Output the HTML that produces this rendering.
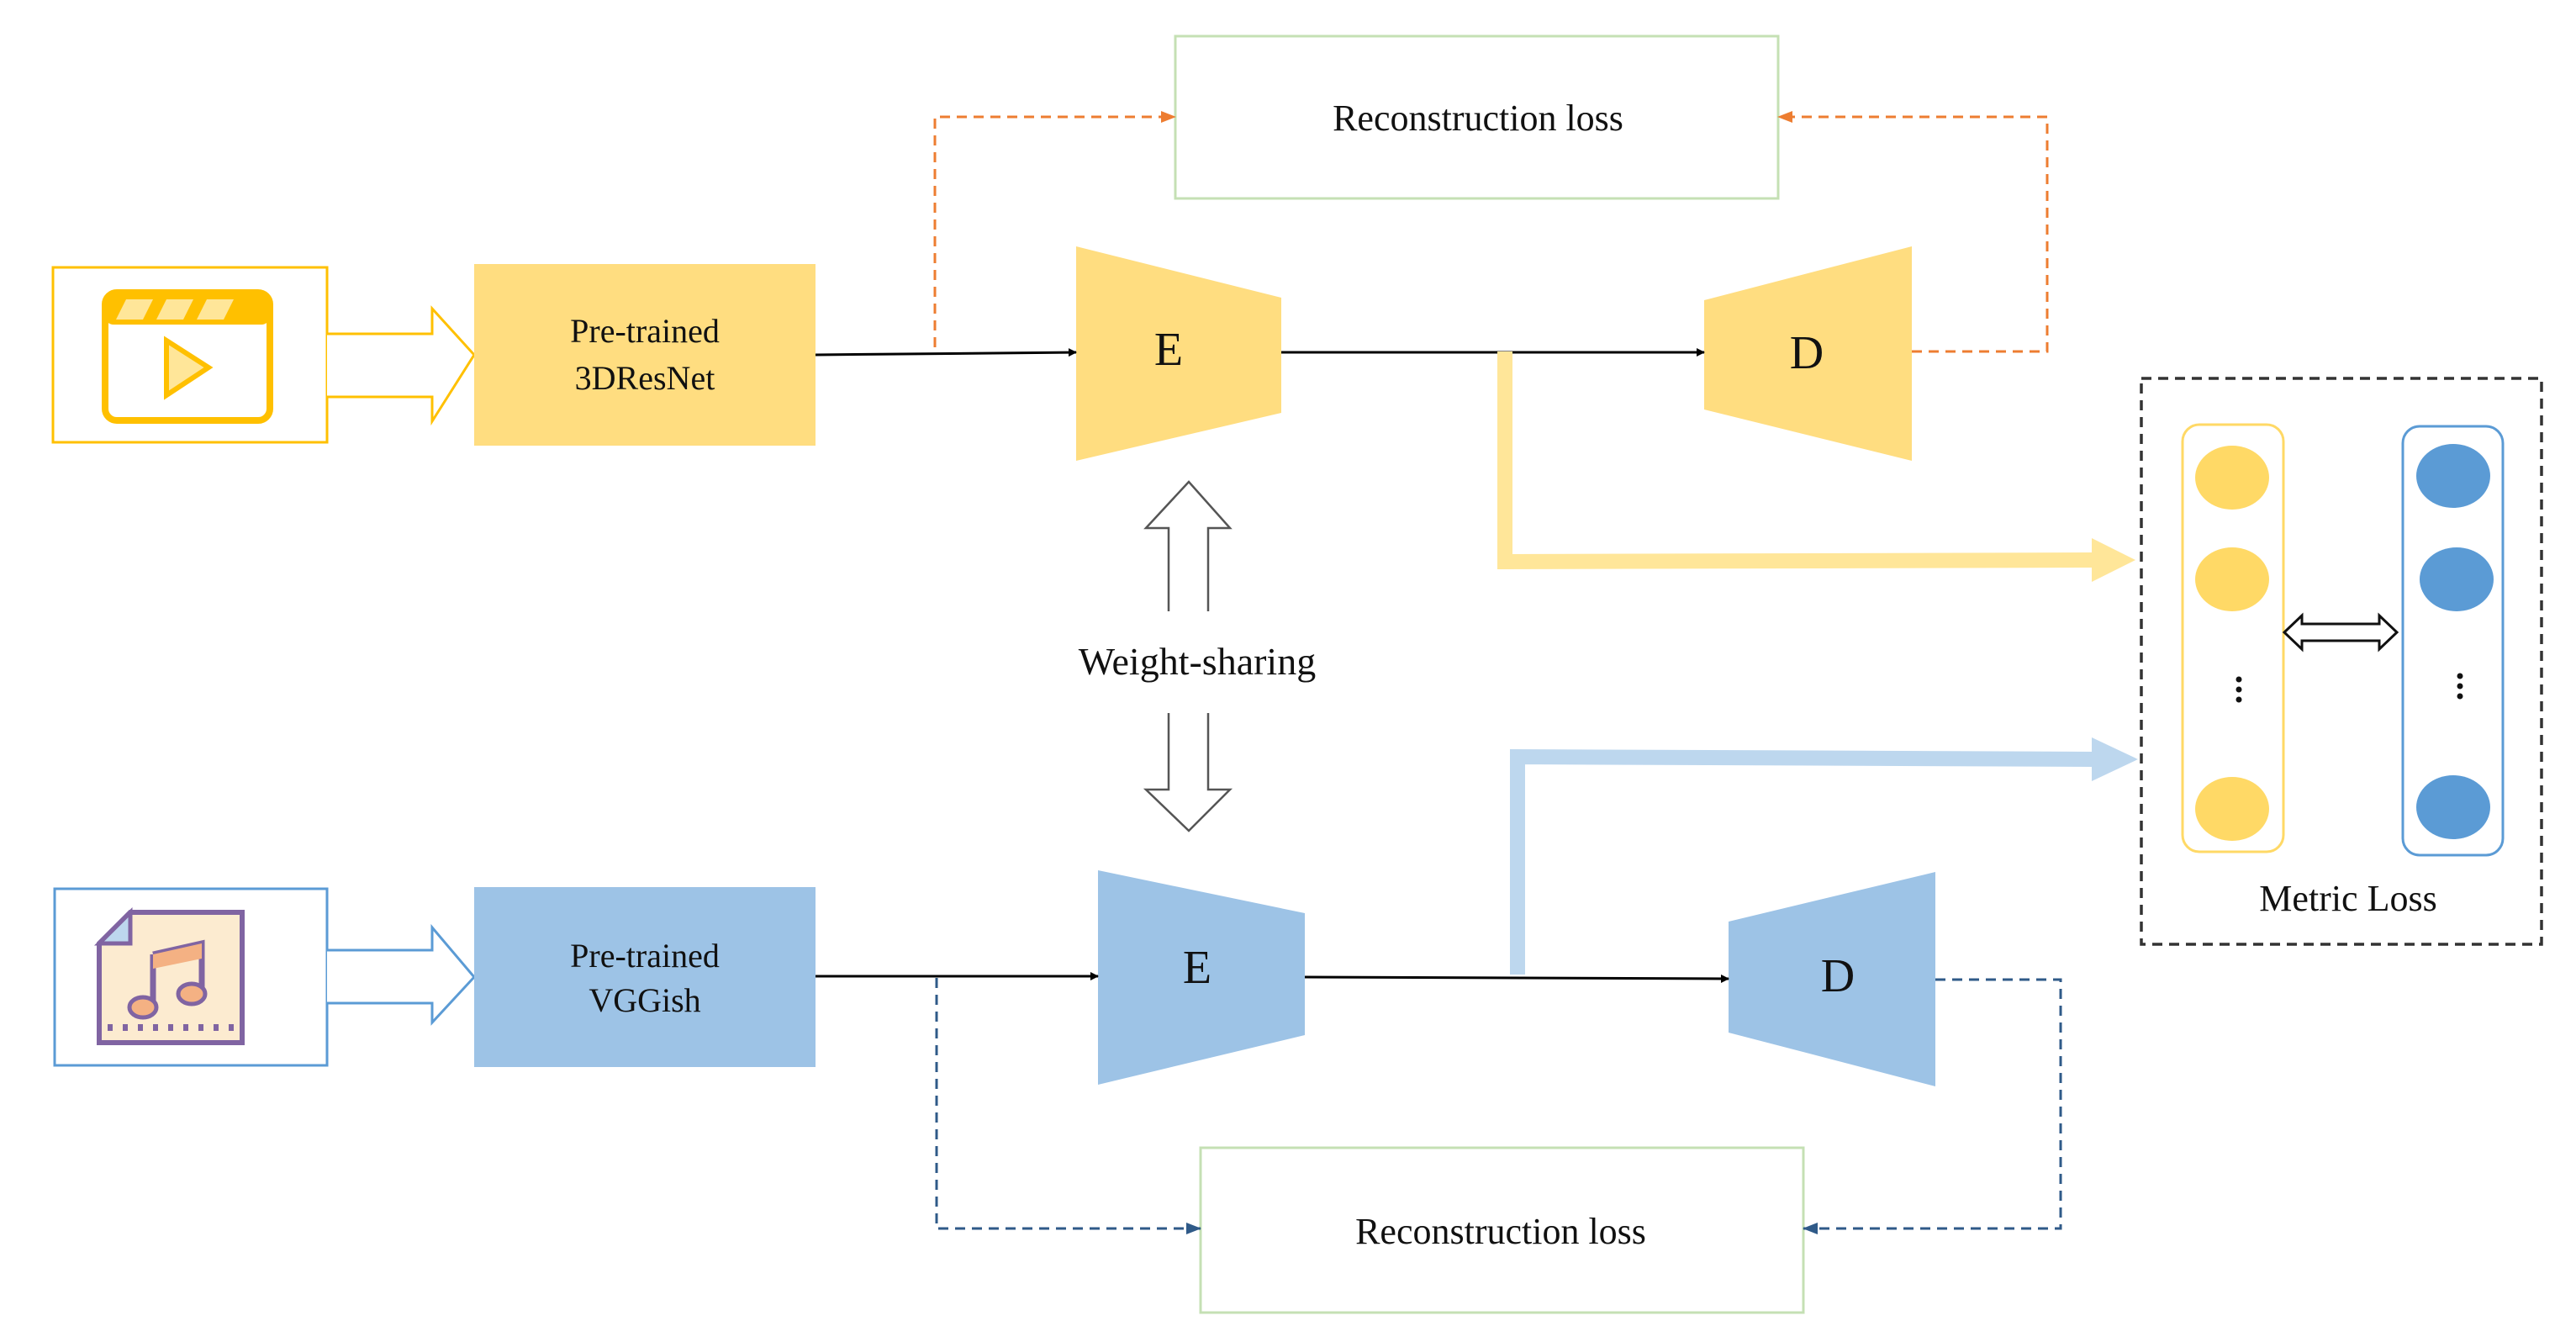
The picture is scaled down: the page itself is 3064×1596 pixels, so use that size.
<!DOCTYPE html>
<html><head><meta charset="utf-8"><style>
html,body{margin:0;padding:0;background:#fff;}
svg{display:block;}
text{font-family:"Liberation Serif",serif;fill:#111;}
</style></head><body>
<svg width="3064" height="1596" viewBox="0 0 3064 1596" xmlns="http://www.w3.org/2000/svg">
<defs>
<marker id="ab" markerWidth="10" markerHeight="10" refX="9" refY="5" orient="auto" markerUnits="userSpaceOnUse"><path d="M0,0 L10,5 L0,10 Z" fill="#000"/></marker>
<marker id="ao" markerWidth="18" markerHeight="14" refX="17" refY="7" orient="auto" markerUnits="userSpaceOnUse"><path d="M0,0 L18,7 L0,14 Z" fill="#ED7D31"/></marker>
<marker id="ad" markerWidth="18" markerHeight="14" refX="17" refY="7" orient="auto" markerUnits="userSpaceOnUse"><path d="M0,0 L18,7 L0,14 Z" fill="#2F5A88"/></marker>
</defs>

<rect x="1398" y="43" width="717" height="193" fill="#fff" stroke="#C5E0B4" stroke-width="3"/>
<text x="1758" y="155" font-size="44" text-anchor="middle">Reconstruction loss</text>
<rect x="1428" y="1365" width="717" height="196" fill="#fff" stroke="#C5E0B4" stroke-width="3"/>
<text x="1785" y="1479" font-size="44" text-anchor="middle">Reconstruction loss</text>

<rect x="63" y="318" width="326" height="208" fill="#fff" stroke="#FFC000" stroke-width="3"/>
<g>
<rect x="125" y="348" width="196" height="152" rx="14" fill="#fff" stroke="#FFC000" stroke-width="8"/>
<rect x="125" y="348" width="196" height="38" rx="10" fill="#FFC000"/>
<path d="M150 356 L138 380 L170 380 L182 356 Z M198 356 L186 380 L218 380 L230 356 Z M246 356 L234 380 L266 380 L278 356 Z" fill="#FFE699"/>
<path d="M198 405 L198 470 L248 437 Z" fill="#FFE699" stroke="#FFC000" stroke-width="6"/>
</g>
<path d="M389 397 L514 397 L514 367 L564 422 L514 501 L514 472 L389 472" fill="#fff" stroke="#FFC000" stroke-width="3"/>

<rect x="564" y="314" width="406" height="216" fill="#FFDD80"/>
<text x="767" y="407" font-size="40" text-anchor="middle">Pre-trained</text>
<text x="767" y="463" font-size="40" text-anchor="middle">3DResNet</text>

<rect x="65" y="1057" width="324" height="210" fill="#fff" stroke="#5B9BD5" stroke-width="3"/>
<g>
<path d="M155 1085 L288 1085 L288 1240 L118 1240 L118 1122 Z" fill="#FCEBD0" stroke="#8064A2" stroke-width="6"/>
<path d="M155 1085 L155 1122 L118 1122 Z" fill="#BDD7EE" stroke="#8064A2" stroke-width="5"/>
<path d="M182 1135 L240 1122 L240 1180 M182 1135 L182 1198" fill="none" stroke="#8064A2" stroke-width="7"/>
<path d="M182 1135 L240 1122 L240 1140 L182 1152 Z" fill="#F4B183"/>
<ellipse cx="170" cy="1198" rx="16" ry="12" fill="#F4B183" stroke="#8064A2" stroke-width="5"/>
<ellipse cx="228" cy="1182" rx="16" ry="12" fill="#F4B183" stroke="#8064A2" stroke-width="5"/>
<path d="M128 1222 L280 1222" stroke="#8064A2" stroke-width="8" stroke-dasharray="6 12"/>
</g>
<path d="M389 1130 L514 1130 L514 1103 L564 1162 L514 1216 L514 1193 L389 1193" fill="#fff" stroke="#5B9BD5" stroke-width="3"/>

<rect x="564" y="1055" width="406" height="214" fill="#9DC3E6"/>
<text x="767" y="1150" font-size="40" text-anchor="middle">Pre-trained</text>
<text x="767" y="1203" font-size="40" text-anchor="middle">VGGish</text>

<polygon points="1280,293 1524,354 1524,491 1280,548" fill="#FFDD80"/>
<text x="1390" y="434" font-size="56" text-anchor="middle">E</text>
<polygon points="2027,357 2274,293 2274,548 2027,487" fill="#FFDD80"/>
<text x="2149" y="438" font-size="56" text-anchor="middle">D</text>

<line x1="970" y1="422" x2="1280" y2="419" stroke="#000" stroke-width="3" marker-end="url(#ab)"/>
<line x1="1524" y1="419" x2="2027" y2="419" stroke="#000" stroke-width="3" marker-end="url(#ab)"/>

<polyline points="1112,413 1112,139 1398,139" fill="none" stroke="#ED7D31" stroke-width="3" stroke-dasharray="12 8" marker-end="url(#ao)"/>
<polyline points="2274,418 2435,418 2435,139 2115,139" fill="none" stroke="#ED7D31" stroke-width="3" stroke-dasharray="12 8" marker-end="url(#ao)"/>

<polygon points="1306,1035 1552,1086 1552,1231 1306,1290" fill="#9DC3E6"/>
<text x="1424" y="1169" font-size="56" text-anchor="middle">E</text>
<polygon points="2056,1096 2302,1037 2302,1292 2056,1228" fill="#9DC3E6"/>
<text x="2186" y="1179" font-size="56" text-anchor="middle">D</text>

<polyline points="1790,418 1790,668 2490,666" fill="none" stroke="#FFE699" stroke-width="18"/>
<polygon points="2488,640 2540,666 2488,692" fill="#FFE699"/>
<polyline points="1805,1159 1805,900 2490,903" fill="none" stroke="#BDD7EE" stroke-width="18"/>
<polygon points="2488,877 2543,903 2488,929" fill="#BDD7EE"/>

<line x1="970" y1="1161" x2="1306" y2="1161" stroke="#000" stroke-width="3" marker-end="url(#ab)"/>
<line x1="1552" y1="1162" x2="2056" y2="1164" stroke="#000" stroke-width="3" marker-end="url(#ab)"/>

<polyline points="1114,1163 1114,1461 1428,1461" fill="none" stroke="#2F5A88" stroke-width="3" stroke-dasharray="12 8" marker-end="url(#ad)"/>
<polyline points="2302,1165 2451,1165 2451,1461 2145,1461" fill="none" stroke="#2F5A88" stroke-width="3" stroke-dasharray="12 8" marker-end="url(#ad)"/>

<path d="M1390 727 L1390 628 L1363 628 L1414 573 L1463 628 L1437 628 L1437 727" fill="#fff" stroke="#555" stroke-width="2.5"/>
<text x="1424" y="802" font-size="46" text-anchor="middle">Weight-sharing</text>
<path d="M1390 848 L1390 939 L1363 939 L1414 988 L1463 939 L1437 939 L1437 848" fill="#fff" stroke="#555" stroke-width="2.5"/>

<rect x="2547" y="450" width="476" height="673" fill="none" stroke="#333" stroke-width="3.5" stroke-dasharray="12 8"/>
<rect x="2596" y="505" width="120" height="508" rx="20" fill="#fff" stroke="#FFD966" stroke-width="3"/>
<rect x="2858" y="507" width="119" height="510" rx="20" fill="#fff" stroke="#5B9BD5" stroke-width="3"/>
<ellipse cx="2655" cy="568" rx="44" ry="38" fill="#FFD966"/>
<ellipse cx="2655" cy="689" rx="44" ry="38" fill="#FFD966"/>
<ellipse cx="2655" cy="962" rx="44" ry="38" fill="#FFD966"/>
<ellipse cx="2918" cy="566" rx="44" ry="38" fill="#5B9BD5"/>
<ellipse cx="2922" cy="689" rx="44" ry="38" fill="#5B9BD5"/>
<ellipse cx="2918" cy="960" rx="44" ry="38" fill="#5B9BD5"/>
<g fill="#111"><circle cx="2663" cy="808" r="3.5"/><circle cx="2663" cy="820" r="3.5"/><circle cx="2663" cy="832" r="3.5"/>
<circle cx="2926" cy="804" r="3.5"/><circle cx="2926" cy="816" r="3.5"/><circle cx="2926" cy="828" r="3.5"/></g>
<path d="M2717 752 L2738 732 L2738 742 L2830 742 L2830 732 L2851 752 L2830 772 L2830 762 L2738 762 L2738 772 Z" fill="#fff" stroke="#111" stroke-width="3"/>
<text x="2793" y="1083" font-size="44" text-anchor="middle">Metric Loss</text>
</svg>
</body></html>
